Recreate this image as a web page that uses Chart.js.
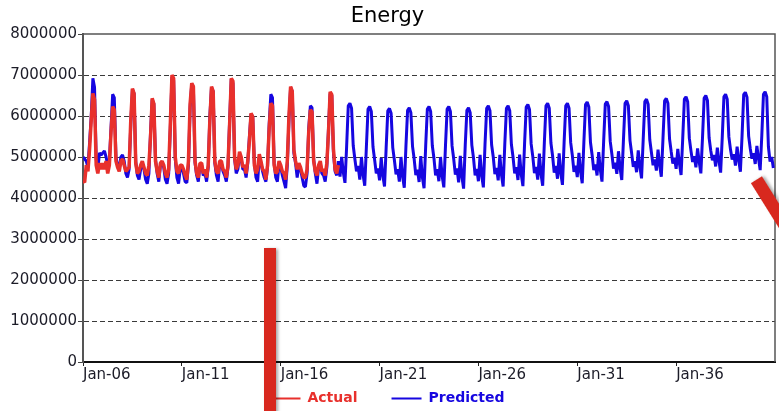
<!DOCTYPE html>
<html>
<head>
<meta charset="utf-8">
<script src="https://cdn.jsdelivr.net/npm/chart.js@4.4.1/dist/chart.umd.min.js"></script>
<style>
  body { margin: 0; background: #fff; }
  #wrap { position: relative; width: 779px; height: 411px; overflow: hidden; }
  /* red marker strokes drawn over the screenshot */
  .mark { position: absolute; background: #d8281e; box-shadow: 2px 1px 3px rgba(0,0,0,0.35); }
  #mark1 { left: 264px; top: 248px; width: 12px; height: 170px; }
  #mark2 { left: 750px; top: 180px; width: 13px; height: 80px; transform-origin: 6px 0; transform: rotate(-32deg); }
</style>
</head>
<body>
<div id="wrap">
  <canvas id="myChart" width="779" height="411"></canvas>
  <div class="mark" id="mark1"></div>
  <div class="mark" id="mark2"></div>
</div>
<script>
// monthly values, thousands, Jan-2006 .. Dec-2040 (one row per year)
var predicted = [
  5000, 4950, 4900, 4750, 5350, 6000, 6920, 6700, 4950, 4700, 5100, 5050, // 2006
  5100, 5150, 5000, 4800, 4900, 5700, 6530, 6450, 5000, 4800, 4700, 5000,
  5050, 4900, 4600, 4500, 4700, 5800, 6650, 6550, 4900, 4550, 4450, 4700,
  4850, 4700, 4450, 4350, 4600, 5600, 6400, 6300, 4950, 4600, 4400, 4800,
  4850, 4750, 4450, 4350, 4600, 5700, 6950, 6880, 4950, 4500, 4350, 4700, // 2010
  4750, 4600, 4400, 4370, 4800, 6200, 6780, 6700, 4850, 4550, 4400, 4800,
  4800, 4550, 4600, 4400, 4750, 6000, 6700, 6600, 4850, 4550, 4400, 4850,
  4850, 4650, 4550, 4400, 4750, 5900, 6900, 6800, 4950, 4600, 4700, 5050,
  4950, 4700, 4700, 4500, 4850, 5500, 6050, 5980, 4850, 4500, 4400, 5000,
  4850, 4650, 4500, 4400, 4750, 5800, 6530, 6450, 4850, 4500, 4400, 4850, // 2015
  4750, 4550, 4400, 4240, 4800, 5900, 6700, 6600, 5100, 4850, 4500, 4800,
  4700, 4500, 4300, 4270, 4600, 5700, 6250, 6200, 4950, 4600, 4350, 4750,
  4850, 4600, 4550, 4400, 4750, 5700, 6550, 6500, 5100, 4650, 4550, 4900,
  4520, 5000, 4620, 4370, 5250, 6250, 6310, 6190, 5280, 4950, 4650, 4780,
  4450, 5000, 4560, 4300, 5250, 6170, 6230, 6110, 5250, 4930, 4600, 4720, // 2020
  4430, 4980, 4540, 4280, 5230, 6125, 6185, 6065, 5230, 4920, 4580, 4700,
  4400, 5000, 4520, 4250, 5260, 6140, 6200, 6080, 5260, 4950, 4560, 4690,
  4390, 5020, 4500, 4240, 5280, 6170, 6230, 6110, 5280, 4970, 4550, 4700,
  4410, 5000, 4530, 4260, 5270, 6170, 6230, 6110, 5270, 4950, 4570, 4720,
  4380, 5030, 4510, 4230, 5290, 6140, 6200, 6080, 5290, 4980, 4550, 4710, // 2025
  4410, 5050, 4540, 4260, 5310, 6190, 6250, 6130, 5300, 5000, 4580, 4730,
  4430, 5050, 4560, 4280, 5310, 6190, 6250, 6130, 5310, 5000, 4600, 4750,
  4440, 5060, 4570, 4290, 5320, 6220, 6280, 6160, 5320, 5010, 4610, 4760,
  4450, 5080, 4580, 4300, 5340, 6250, 6310, 6190, 5340, 5030, 4620, 4780,
  4470, 5090, 4600, 4320, 5350, 6250, 6310, 6190, 5350, 5040, 4640, 4790, // 2030
  4510, 5100, 4640, 4360, 5360, 6280, 6340, 6220, 5360, 5050, 4680, 4820,
  4550, 5120, 4680, 4400, 5380, 6290, 6350, 6230, 5380, 5070, 4720, 4860,
  4590, 5140, 4720, 4440, 5400, 6310, 6370, 6250, 5400, 5090, 4760, 4900,
  4630, 5160, 4760, 4480, 5420, 6350, 6410, 6290, 5420, 5110, 4800, 4940,
  4670, 5180, 4800, 4520, 5440, 6370, 6430, 6310, 5440, 5130, 4840, 4980, // 2035
  4710, 5200, 4840, 4560, 5460, 6410, 6470, 6350, 5460, 5150, 4880, 5020,
  4750, 5210, 4880, 4600, 5470, 6440, 6500, 6380, 5470, 5160, 4920, 5050,
  4770, 5230, 4900, 4620, 5490, 6470, 6530, 6410, 5490, 5180, 4940, 5070,
  4790, 5250, 4920, 4640, 5510, 6520, 6580, 6460, 5510, 5200, 4960, 5090,
  4830, 5270, 4960, 4680, 5530, 6530, 6590, 6470, 5250, 4890, 5000, 4730  // 2040
];

// Jan-2006 .. Dec-2018
var actual = [
  4420, 4380, 4800, 4650, 5200, 5900, 6550, 6400, 4800, 4600, 4850, 4700, // 2006
  4850, 4700, 4900, 4600, 4800, 5600, 6230, 6150, 4900, 4750, 4650, 4900,
  4950, 4800, 4650, 4700, 4750, 5900, 6670, 6550, 4850, 4600, 4650, 4800,
  4900, 4750, 4600, 4550, 4800, 5500, 6430, 6300, 4900, 4650, 4500, 4850,
  4900, 4800, 4600, 4500, 4700, 5800, 7000, 6920, 5000, 4650, 4600, 4800, // 2010
  4800, 4700, 4550, 4450, 4900, 6290, 6800, 6720, 4900, 4600, 4500, 4850,
  4850, 4600, 4700, 4500, 4800, 5900, 6715, 6600, 4900, 4650, 4600, 4900,
  4900, 4700, 4650, 4500, 4800, 5800, 6920, 6850, 5000, 4700, 4800, 5130,
  5000, 4750, 4800, 4600, 4900, 5400, 6065, 5980, 4800, 4600, 4700, 5070,
  4900, 4700, 4650, 4450, 4800, 5700, 6310, 6250, 4800, 4600, 4650, 4900, // 2015
  4800, 4650, 4600, 4450, 4900, 6000, 6715, 6600, 5170, 4900, 4700, 4850,
  4750, 4600, 4500, 4500, 4700, 5600, 6150, 6100, 4900, 4650, 4550, 4800,
  4900, 4650, 4700, 4550, 4850, 5600, 6590, 6520, 5200, 4700, 4600, 4800
];

var tickLabels = ['Jan-06', 'Jan-11', 'Jan-16', 'Jan-21', 'Jan-26', 'Jan-31', 'Jan-36'];
var months = predicted.map(function (v, i) { return i; }); // months since Jan-2006

var tickFont = { family: 'DejaVu Sans', size: 15 };
var legendPad = 34;

// box round the plot (top and right edges)
var frame = {
  id: 'frame',
  beforeDatasetsDraw: function (chart) {
    var a = chart.chartArea, ctx = chart.ctx;
    ctx.save();
    ctx.strokeStyle = '#555';
    ctx.lineWidth = 1.5;
    ctx.beginPath();
    ctx.moveTo(a.left, a.top);
    ctx.lineTo(a.right, a.top);
    ctx.lineTo(a.right, a.bottom);
    ctx.stroke();
    ctx.restore();
  }
};

// legend sits lower than its wide item padding would put it
var legendPlace = {
  id: 'legendPlace',
  afterLayout: function (chart) {
    var lg = chart.legend;
    lg.top = 398.5 - 7 - legendPad;
    lg.bottom = chart.height;
    lg.height = lg.bottom - lg.top;
  }
};

new Chart('myChart', {
  type: 'line',
  data: {
    labels: months,
    datasets: [{
      label: 'Actual',
      data: actual.map(function (v) { return v * 1000; }),
      borderColor: '#e8302c',
      borderWidth: 3.5,
      borderJoinStyle: 'bevel',
      pointRadius: 0,
      fill: false
    }, {
      label: 'Predicted',
      data: predicted.map(function (v) { return v * 1000; }),
      borderColor: '#1606e0',
      borderWidth: 3,
      borderJoinStyle: 'bevel',
      pointRadius: 0,
      fill: false
    }]
  },
  options: {
    responsive: false,
    animation: false,
    layout: { padding: { left: 0, right: 4, top: 0, bottom: 0 } },
    plugins: {
      title: {
        display: true,
        text: 'Energy',
        color: '#000',
        font: { family: 'DejaVu Sans', size: 21, weight: 'normal' },
        padding: { top: 4, bottom: 4.8 }
      },
      legend: {
        position: 'bottom',
        maxHeight: 26,
        labels: {
          font: { family: 'DejaVu Sans', size: 14, weight: 'bold' },
          boxWidth: 30,
          boxHeight: 2,
          padding: legendPad,
          generateLabels: function (chart) {
            return chart.data.datasets.map(function (ds, i) {
              return {
                text: ds.label,
                fillStyle: ds.borderColor,
                strokeStyle: ds.borderColor,
                fontColor: ds.borderColor,
                lineWidth: 0,
                datasetIndex: i,
                hidden: false
              };
            });
          }
        }
      },
      tooltip: { enabled: false }
    },
    scales: {
      x: {
        type: 'linear',
        min: 0,
        max: 420,
        afterFit: function (scale) { scale.height = 23; },
        afterBuildTicks: function (scale) {
          scale.ticks = scale.ticks.filter(function (t) { return t.value < 420; });
        },
        ticks: {
          stepSize: 60,
          autoSkip: false,
          maxRotation: 0,
          align: 'start',
          padding: 0,
          color: '#1c1c28',
          font: tickFont,
          callback: function (v) { return tickLabels[v / 60]; }
        },
        grid: { drawOnChartArea: false, drawTicks: true, tickLength: 4, tickColor: '#222' },
        border: { display: true, color: '#111', width: 2 }
      },
      y: {
        min: 0,
        max: 8000000,
        afterFit: function (scale) { scale.width = 83; },
        ticks: {
          stepSize: 1000000,
          padding: 1,
          color: '#1c1c28',
          font: tickFont,
          callback: function (v) { return String(v); }
        },
        grid: {
          color: function (c) {
            return (c.tick && (c.tick.value === 0 || c.tick.value === 8000000)) ? 'rgba(0,0,0,0)' : '#3a3a3a';
          },
          lineWidth: 1,
          tickLength: 5,
          tickColor: '#444'
        },
        border: { display: true, color: '#555', width: 2, dash: [5, 3] }
      }
    }
  },
  plugins: [frame, legendPlace]
});
</script>
</body>
</html>
